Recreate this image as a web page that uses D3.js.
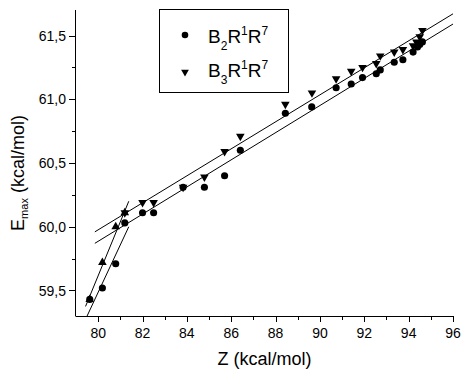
<!DOCTYPE html>
<html><head><meta charset="utf-8">
<script src="https://cdn.jsdelivr.net/npm/d3@7"></script>
<style>
body{margin:0;background:#fff;}
svg{display:block;font-family:"Liberation Sans",Arial,sans-serif;}
</style></head>
<body><svg id="c" width="462" height="369"></svg>
<script>
// ---- data ----
const zB2 = [79.62, 80.19, 80.79, 81.20, 82.00, 82.50, 83.83, 84.79, 85.70, 86.41, 88.44, 89.63, 90.73, 91.41, 91.92, 92.54, 92.72, 93.35, 93.74, 94.20, 94.40, 94.50, 94.62];
const eB2 = [59.43, 59.52, 59.71, 60.03, 60.11, 60.11, 60.31, 60.31, 60.40, 60.60, 60.89, 60.94, 61.09, 61.12, 61.17, 61.20, 61.23, 61.29, 61.31, 61.37, 61.41, 61.43, 61.45];
const zB3 = [81.20, 82.00, 82.50, 83.83, 84.79, 85.70, 86.41, 88.44, 89.64, 90.73, 91.41, 91.92, 92.54, 92.72, 93.35, 93.74, 94.20, 94.35, 94.50, 94.62];
const eB3 = [60.11, 60.19, 60.19, 60.31, 60.39, 60.59, 60.71, 60.96, 61.05, 61.16, 61.22, 61.25, 61.28, 61.34, 61.37, 61.39, 61.42, 61.45, 61.49, 61.54];
const zB3low = [79.62, 80.19, 80.79, 81.20];
const eB3low = [59.43, 59.72, 60.00, 60.11];
// fitted lines (end points in data units)
const fitB3Z = [79.85, 96.0],  fitB3E = [59.96, 61.67];
const fitB2Z = [79.85, 96.0],  fitB2E = [59.87, 61.59];
const steepB3Z = [79.43, 81.38], steepB3E = [59.375, 60.20];
const steepB2Z = [79.50, 81.38], steepB2E = [59.30, 60.00];
const xTicks = [80, 82, 84, 86, 88, 90, 92, 94, 96];
const xTickLabels = ["80", "82", "84", "86", "88", "90", "92", "94", "96"];
const xMinor = [81, 83, 85, 87, 89, 91, 93, 95];
const yTicks = [59.5, 60.0, 60.5, 61.0, 61.5];
const yTickLabels = ["59,5", "60,0", "60,5", "61,0", "61,5"];
const yMinor = [59.75, 60.25, 60.75, 61.25];

// ---- layout ----
const svg = d3.select("#c");
const L = 76, R = 453, T = 10, B = 316;
const x = d3.scaleLinear().domain([79, 96]).range([L, R]);
const y = d3.scaleLinear().domain([59.3, 61.7]).range([B, T]);

const g = svg.append("g");
// fit lines
const lineGen = d3.line().x(d => x(d[0])).y(d => y(d[1]));
[[fitB3Z, fitB3E], [fitB2Z, fitB2E], [steepB3Z, steepB3E], [steepB2Z, steepB2E]].forEach(([zs, es]) => {
  g.append("path").datum(zs.map((z, i) => [z, es[i]]))
    .attr("d", lineGen).attr("fill", "none").attr("stroke", "#000").attr("stroke-width", 1);
});

const circ = d3.symbol().type(d3.symbolCircle).size(40);
const tri = d3.symbol().type(d3.symbolTriangle).size(32);
// B2 circles
g.selectAll(".b2").data(zB2.map((z, i) => [z, eB2[i]])).join("path")
  .attr("d", circ).attr("transform", d => `translate(${x(d[0])},${y(d[1])})`).attr("fill", "#000");
// B3 down triangles
g.selectAll(".b3").data(zB3.map((z, i) => [z, eB3[i]])).join("path")
  .attr("d", tri).attr("transform", d => `translate(${x(d[0])},${y(d[1])}) rotate(180)`).attr("fill", "#000");
// B3 up triangles (low range)
g.selectAll(".b3l").data(zB3low.map((z, i) => [z, eB3low[i]])).join("path")
  .attr("d", tri).attr("transform", d => `translate(${x(d[0])},${y(d[1])})`).attr("fill", "#000");

// axes
const ax = svg.append("g").attr("stroke", "#000").attr("stroke-width", 1);
ax.append("line").attr("x1", L - 0.5).attr("x2", L - 0.5).attr("y1", T).attr("y2", B);
ax.append("line").attr("x1", L - 0.5).attr("x2", R + 0.5).attr("y1", B + 0.5).attr("y2", B + 0.5);
xTicks.forEach(v => ax.append("line").attr("x1", Math.round(x(v)) + 0.5).attr("x2", Math.round(x(v)) + 0.5).attr("y1", B).attr("y2", B + 6));
xMinor.forEach(v => ax.append("line").attr("x1", Math.round(x(v)) + 0.5).attr("x2", Math.round(x(v)) + 0.5).attr("y1", B).attr("y2", B + 4));
yTicks.forEach(v => ax.append("line").attr("y1", Math.round(y(v)) + 0.5).attr("y2", Math.round(y(v)) + 0.5).attr("x1", L).attr("x2", L - 7));
yMinor.forEach(v => ax.append("line").attr("y1", Math.round(y(v)) + 0.5).attr("y2", Math.round(y(v)) + 0.5).attr("x1", L).attr("x2", L - 4));

const tx = svg.append("g").attr("font-size", 14).attr("fill", "#000");
xTicks.forEach((v, i) => tx.append("text").attr("x", x(v)).attr("y", 338).attr("text-anchor", "middle").text(xTickLabels[i]));
yTicks.forEach((v, i) => tx.append("text").attr("x", 66).attr("y", y(v) + 5).attr("text-anchor", "end").text(yTickLabels[i]));

// axis titles
svg.append("text").attr("x", (L + R) / 2).attr("y", 365).attr("text-anchor", "middle")
  .attr("font-size", 18).text("Z (kcal/mol)");
const yt = svg.append("text").attr("transform", "translate(23.5,173) rotate(-90)")
  .attr("text-anchor", "middle").attr("font-size", 18);
yt.append("tspan").text("E");
yt.append("tspan").attr("font-size", 11).attr("dy", 4).text("max");
yt.append("tspan").attr("dy", -4).text(" (kcal/mol)");

// legend
const lg = svg.append("g");
lg.append("rect").attr("x", 159.5).attr("y", 9.5).attr("width", 129).attr("height", 83)
  .attr("fill", "#fff").attr("stroke", "#000");
lg.append("path").attr("d", d3.symbol().type(d3.symbolCircle).size(34)).attr("transform", "translate(185,35)");
lg.append("path").attr("d", d3.symbol().type(d3.symbolTriangle).size(26)).attr("transform", "translate(185,72) rotate(180)");
[["2", 43], ["3", 77]].forEach(([n, by]) => {
  const t = lg.append("text").attr("x", 208).attr("y", by).attr("font-size", 19);
  t.append("tspan").text("B");
  t.append("tspan").attr("font-size", 12).attr("dy", 7).text(n);
  t.append("tspan").attr("dy", -7).text("R");
  t.append("tspan").attr("font-size", 12).attr("dy", -8).text("1");
  t.append("tspan").attr("dy", 8).text("R");
  t.append("tspan").attr("font-size", 12).attr("dy", -8).text("7");
});
</script></body></html>
